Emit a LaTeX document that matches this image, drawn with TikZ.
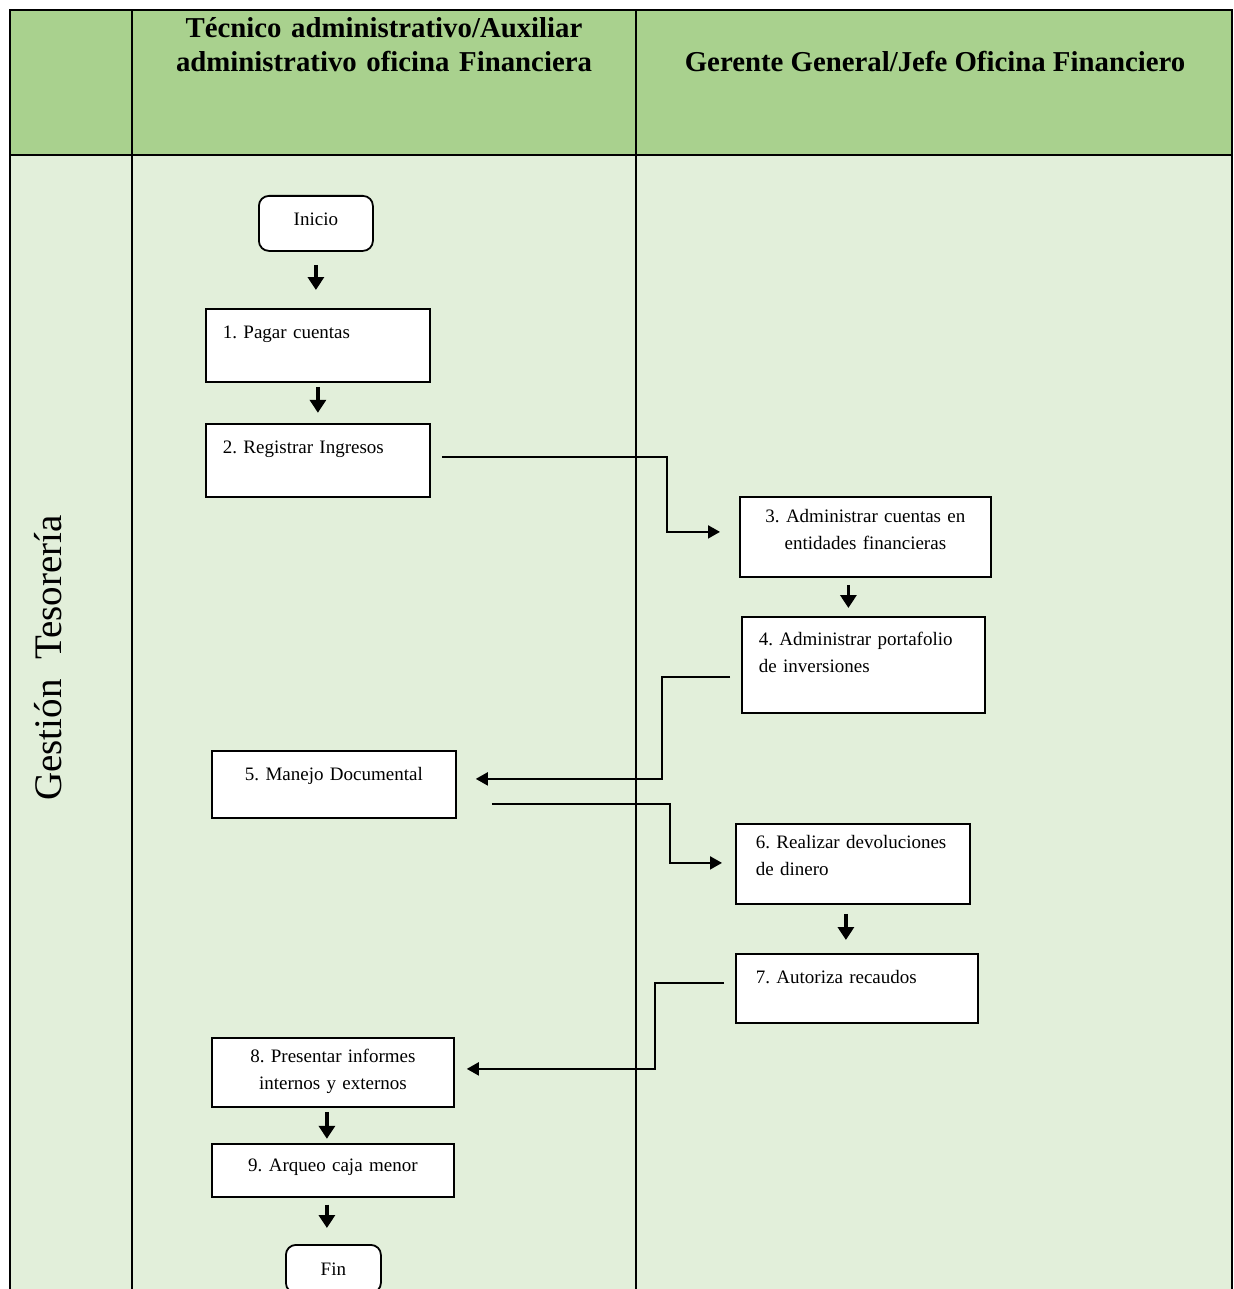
\documentclass[tikz,border=0pt]{standalone}
\usepackage{fontspec}
\setmainfont{Liberation Serif}
\usepackage{tikz}
\usetikzlibrary{positioning, arrows.meta}

\definecolor{headgreen}{HTML}{A9D18E}
\definecolor{lanegreen}{HTML}{E2EFDA}

\frenchspacing

\begin{document}
\begin{tikzpicture}[x=0.5pt, y=-0.5pt, line width=0.9pt, font=\fontsize{9.5}{13.5}\selectfont]
        % Define block styles
        \tikzstyle{task} = [rectangle, draw, fill=white, inner ysep=0pt, inner xsep=8.5pt, align=left]
        \tikzstyle{terminal} = [task, rounded corners=5pt, align=center, inner xsep=2pt]
        \tikzstyle{flow} = [-{Triangle[length=6.5pt, width=8pt]}, line width=1.6pt]
        \tikzstyle{link} = [-{Triangle[length=6pt, width=6.5pt]}, line width=1pt]
        \tikzstyle{lanehead} = [font=\fontsize{14.4}{17}\selectfont\bfseries, align=center]

        \useasboundingbox (0,0) rectangle (1233,1289);

        % Swimlane table
        \fill [lanegreen] (10,155) rectangle (1233,1300);
        \fill [headgreen] (10,10) rectangle (1233,155);
        \draw (10,1300) -- (10,10) -- (1232,10) -- (1232,1300);
        \draw (10,155) -- (1232,155);
        \draw (132,10) -- (132,1300);
        \draw (636,10) -- (636,1300);

        % Lane titles
        \node [lanehead, text width=240pt, anchor=base] (tecnico) at (384,38) {Técnico administrativo/Auxiliar\\administrativo oficina Financiera};
        \node [lanehead, anchor=base] (gerente) at (935,72) {Gerente General/Jefe Oficina Financiero};
        \node [rotate=90, font=\fontsize{19.5}{20}\selectfont] (proceso) at (48,658) {Gestión\hspace{0.5em}Tesorería};

        % Place main nodes
        \node [terminal, anchor=north west, text width=53pt, text height=15pt, text depth=12.5pt] (start) at (258,195) {Inicio};
        \node [task, anchor=north west, text width=95pt, text height=15pt, text depth=21.5pt] (pay) at (205,308) {1. Pagar cuentas};
        \node [task, below=20pt of pay, text width=95pt, text height=15pt, text depth=21.5pt] (income) {2. Registrar Ingresos};
        \node [task, anchor=north west, align=center, inner xsep=4pt, text width=117.5pt, text height=13pt, text depth=27pt] (accounts) at (739,496) {3. Administrar cuentas en\\entidades financieras};
        \node [task, anchor=north west, text width=104.5pt, text height=14.5pt, text depth=33.5pt] (portfolio) at (741,616) {4. Administrar portafolio\\de inversiones};
        \node [task, anchor=north west, align=center, inner xsep=4pt, text width=114pt, text height=15pt, text depth=18.5pt] (docs) at (211,750) {5. Manejo Documental};
        \node [task, anchor=north west, inner xsep=10pt, text width=97pt, text height=12.5pt, text depth=27.5pt] (refunds) at (735,823) {6. Realizar devoluciones\\de dinero};
        \node [task, anchor=north west, inner xsep=10pt, text width=101pt, text height=15pt, text depth=19.5pt] (collect) at (735,953) {7. Autoriza recaudos};
        \node [task, anchor=north west, align=center, inner xsep=4pt, text width=113pt, text height=12.5pt, text depth=22pt] (reports) at (211,1037) {8. Presentar informes\\internos y externos};
        \node [task, below=17.5pt of reports, align=center, inner xsep=4pt, text width=113pt, text height=14pt, text depth=12.5pt] (pettycash) {9. Arqueo caja menor};
        \node [terminal, anchor=north west, text width=43.5pt, text height=15.5pt, text depth=8.5pt] (finish) at (285,1244) {Fin};

        % Draw connections within each lane
        \draw [flow, shorten <=6.5pt, shorten >=9pt] (start.south) -- (start.south |- pay.north);
        \draw [flow, shorten <=2pt, shorten >=5pt] (pay.south) -- (income.north);
        \draw [flow, shorten <=3.5pt, shorten >=4pt] ([xshift=-8.5pt]accounts.south) -- ([xshift=-8.5pt]accounts.south |- portfolio.north);
        \draw [flow, shorten <=4.5pt, shorten >=6.5pt] ([xshift=-3.5pt]refunds.south) -- ([xshift=-3.5pt]refunds.south |- collect.north);
        \draw [flow, shorten <=2pt, shorten >=2pt] ([xshift=-3pt]reports.south) -- ([xshift=-3pt]reports.south |- pettycash.north);
        \draw [flow, shorten <=3.5pt, shorten >=8pt] ([xshift=-3pt]pettycash.south) -- ([xshift=-3pt]pettycash.south |- finish.north);

        % Draw connections between lanes
        \draw [link] ([xshift=5.5pt, yshift=1.75pt]income.east) -- ++(225,0) |- ([xshift=-9.5pt, yshift=2.5pt]accounts.west);
        \draw [link] ([xshift=-5.5pt, yshift=-6pt]portfolio.west) -- ++(-68,0) |- ([xshift=9.5pt, yshift=2.75pt]docs.east);
        \draw [link] ([xshift=17.5pt, yshift=-9.75pt]docs.east) -- ++(178,0) |- ([xshift=-6.5pt, yshift=0.5pt]refunds.west);
        \draw [link] ([xshift=-5.5pt, yshift=2.75pt]collect.west) -- ++(-69,0) |- ([xshift=6pt, yshift=1.75pt]reports.east);

    \end{tikzpicture}
\end{document}
